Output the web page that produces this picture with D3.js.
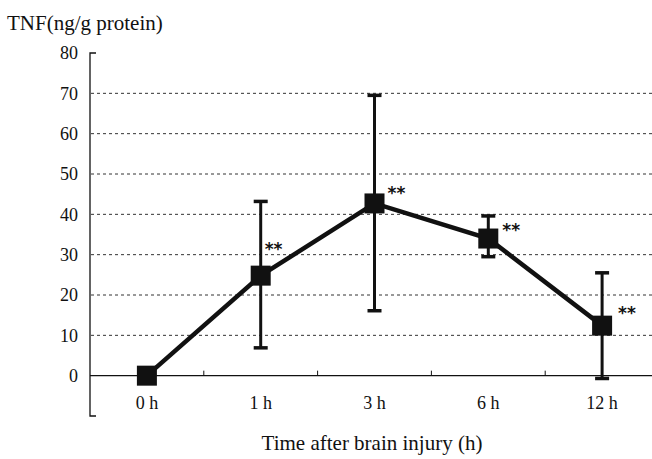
<!DOCTYPE html>
<html><head><meta charset="utf-8">
<script src="https://cdn.jsdelivr.net/npm/d3@7"></script>
<style>body{margin:0;background:#fff}svg{display:block}</style>
</head><body>
<svg id="c" width="652" height="459"></svg>
<script>
const categories = ["0 h","1 h","3 h","6 h","12 h"];
const means = [0, 24.8, 42.7, 34.0, 12.4];
const upper = [0, 43.2, 69.5, 39.6, 25.5];
const lower = [0, 6.9, 16.1, 29.5, -0.7];
const stars = ["", "**", "**", "**", "**"];
const yTicks = [0,10,20,30,40,50,60,70,80];

const svg = d3.select("#c");
const font = "'Liberation Serif','Times New Roman',serif";
const x = d3.scaleBand().domain(categories).range([90, 659]);
const y = d3.scaleLinear().domain([-10, 80]).range([416, 53]);

// gridlines
svg.append("g").selectAll("line").data(yTicks.filter(d => d > 0 && d < 80)).join("line")
  .attr("x1", 91).attr("x2", 652).attr("y1", d => y(d)).attr("y2", d => y(d))
  .attr("stroke", "#333").attr("stroke-width", 1).attr("stroke-dasharray", "3,3");

// y axis
const yAxis = d3.axisLeft(y).tickValues(yTicks).tickSize(0).tickPadding(12);
const gy = svg.append("g").attr("transform", "translate(90,0)").call(yAxis);
gy.select(".domain").remove();
gy.selectAll("text").attr("font-family", font).attr("font-size", 18).attr("fill", "#111");
svg.append("path").attr("d", `M96,${y(80)}H90V${y(-10)}H96`).attr("fill", "none").attr("stroke", "#111").attr("stroke-width", 1.3);

// x axis
const xAxis = d3.axisBottom(x).tickSize(0).tickPadding(21);
const gx = svg.append("g").attr("transform", `translate(0,${y(0)})`).call(xAxis);
gx.select(".domain").remove();
gx.selectAll("text").attr("font-family", font).attr("font-size", 18).attr("fill", "#111");
svg.append("line").attr("x1", 90).attr("x2", 652).attr("y1", y(0)).attr("y2", y(0)).attr("stroke", "#111").attr("stroke-width", 1.3);
svg.append("g").selectAll("line").data(categories.slice(1)).join("line")
  .attr("x1", d => x(d)).attr("x2", d => x(d)).attr("y1", y(0)).attr("y2", y(0) - 5)
  .attr("stroke", "#111").attr("stroke-width", 1);

const cx = d => x(d) + x.bandwidth() / 2;
const data = categories.map((c, i) => ({c, i, m: means[i], u: upper[i], l: lower[i], s: stars[i]}));

// error bars
const eb = svg.append("g").selectAll("g").data(data.filter(d => d.u !== d.l)).join("g");
eb.append("line").attr("x1", d => cx(d.c)).attr("x2", d => cx(d.c)).attr("y1", d => y(d.u)).attr("y2", d => y(d.l))
  .attr("stroke", "#111").attr("stroke-width", 3);
eb.append("line").attr("x1", d => cx(d.c) - 7).attr("x2", d => cx(d.c) + 7).attr("y1", d => y(d.u)).attr("y2", d => y(d.u))
  .attr("stroke", "#111").attr("stroke-width", 3.5);
eb.append("line").attr("x1", d => cx(d.c) - 7).attr("x2", d => cx(d.c) + 7).attr("y1", d => y(d.l)).attr("y2", d => y(d.l))
  .attr("stroke", "#111").attr("stroke-width", 3.5);

// line
svg.append("path").datum(data)
  .attr("d", d3.line().x(d => cx(d.c)).y(d => y(d.m)))
  .attr("fill", "none").attr("stroke", "#111").attr("stroke-width", 4.5);

// markers
svg.append("g").selectAll("rect").data(data).join("rect")
  .attr("x", d => cx(d.c) - 10).attr("y", d => y(d.m) - 10).attr("width", 20).attr("height", 20)
  .attr("fill", "#111");

// significance stars (placed right of / above each marker)
const starNudge = {1: [4, -31], 2: [13, -14], 3: [14, -13], 4: [16, -17]};
svg.append("g").selectAll("text").data(data.filter(d => d.s)).join("text")
  .attr("x", d => cx(d.c) + starNudge[d.i][0]).attr("y", d => y(d.m) + starNudge[d.i][1] + 10)
  .attr("font-family", "'DejaVu Sans',sans-serif").attr("font-weight", "bold").attr("font-size", 17).attr("fill", "#111")
  .text(d => d.s);

// titles
svg.append("text").attr("x", 7).attr("y", 30).attr("font-family", font).attr("font-size", 21).attr("fill", "#111").text("TNF(ng/g protein)");
svg.append("text").attr("x", 372).attr("y", 450).attr("text-anchor", "middle").attr("font-family", font).attr("font-size", 21).attr("fill", "#111").text("Time after brain injury (h)");
</script>
</body></html>
